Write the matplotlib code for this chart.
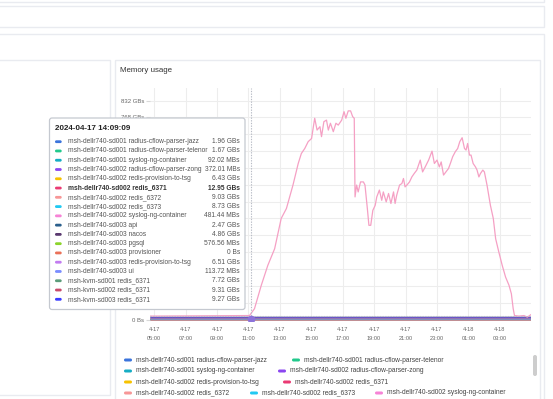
import pandas as pd
import matplotlib
matplotlib.use("Agg")
import matplotlib.pyplot as plt
import matplotlib.dates as mdates
from matplotlib.patches import Rectangle, FancyBboxPatch
from matplotlib.transforms import Affine2D
from matplotlib.ticker import FuncFormatter, MultipleLocator

plt.rcParams['font.family'] = ['Liberation Sans', 'DejaVu Sans']

# Series shown in the tooltip / legend
series_names = [
    'msh-dellr740-sd001 radius-cflow-parser-jazz',
    'msh-dellr740-sd001 radius-cflow-parser-telenor',
    'msh-dellr740-sd001 syslog-ng-container',
    'msh-dellr740-sd002 radius-cflow-parser-zong',
    'msh-dellr740-sd002 redis-provision-to-tsg',
    'msh-dellr740-sd002 redis_6371',
    'msh-dellr740-sd002 redis_6372',
    'msh-dellr740-sd002 redis_6373',
    'msh-dellr740-sd002 syslog-ng-container',
    'msh-dellr740-sd003 api',
    'msh-dellr740-sd003 nacos',
    'msh-dellr740-sd003 pgsql',
    'msh-dellr740-sd003 provisioner',
    'msh-dellr740-sd003 redis-provision-to-tsg',
    'msh-dellr740-sd003 ui',
    'msh-kvm-sd001 redis_6371',
    'msh-kvm-sd002 redis_6371',
    'msh-kvm-sd003 redis_6371',
]
series_colors = [
    '#3b74dc', '#22c98c', '#16adc4', '#8b46f0', '#f7c200', '#ea3a73',
    '#f79797', '#21c9f2', '#f683d6', '#2b5f8c', '#5b3a70', '#8cd42c',
    '#ea7158', '#c27cf0', '#7a8dff', '#5c9c7a', '#c94b6b', '#3a3cff',
]
tooltip_values = [
    '1.96 GBs', '1.67 GBs', '92.02 MBs', '372.01 MBs', '6.43 GBs', '12.95 GBs',
    '9.03 GBs', '8.73 GBs', '481.44 MBs', '2.47 GBs', '4.86 GBs', '576.56 MBs',
    '0 Bs', '6.51 GBs', '113.72 MBs', '7.72 GBs', '9.31 GBs', '9.27 GBs',
]
hovered = 5
tooltip_time = '2024-04-17 14:09:09'

# The large series (redis_6371) over the day
big_times = [
    '04-17 04:44', '04-17 11:04', '04-17 11:23', '04-17 11:49', '04-17 12:14',
    '04-17 12:40', '04-17 13:05', '04-17 13:25', '04-17 13:50', '04-17 14:10',
    '04-17 14:22', '04-17 14:35', '04-17 14:48', '04-17 15:01', '04-17 15:07',
    '04-17 15:13', '04-17 15:22', '04-17 15:33', '04-17 15:39', '04-17 15:48',
    '04-17 15:58', '04-17 16:05', '04-17 16:13', '04-17 16:24', '04-17 16:34',
    '04-17 16:43', '04-17 16:56', '04-17 17:05', '04-17 17:12', '04-17 17:21',
    '04-17 17:30', '04-17 17:38', '04-17 17:44', '04-17 17:47', '04-17 17:53',
    '04-17 17:59', '04-17 18:08', '04-17 18:19', '04-17 18:25', '04-17 18:34',
    '04-17 18:40', '04-17 18:47', '04-17 18:55', '04-17 19:04', '04-17 19:10',
    '04-17 19:20', '04-17 19:29', '04-17 19:35', '04-17 19:46', '04-17 19:55',
    '04-17 20:04', '04-17 20:14', '04-17 20:20', '04-17 20:26', '04-17 20:37',
    '04-17 20:46', '04-17 20:52', '04-17 20:58', '04-17 21:05', '04-17 21:15',
    '04-17 21:24', '04-17 21:33', '04-17 21:43', '04-17 21:56', '04-17 22:05',
    '04-17 22:15', '04-17 22:28', '04-17 22:41', '04-17 22:50', '04-17 23:00',
    '04-17 23:09', '04-17 23:16', '04-17 23:25', '04-17 23:34', '04-17 23:44',
    '04-17 23:51', '04-18 00:00', '04-18 00:10', '04-18 00:19', '04-18 00:27',
    '04-18 00:36', '04-18 00:45', '04-18 00:51', '04-18 00:57', '04-18 01:04',
    '04-18 01:10', '04-18 01:18', '04-18 01:27', '04-18 01:33', '04-18 01:40',
    '04-18 01:46', '04-18 01:55', '04-18 02:01', '04-18 02:11', '04-18 02:24',
    '04-18 02:35', '04-18 02:44', '04-18 02:56', '04-18 03:09', '04-18 03:22',
    '04-18 03:35', '04-18 03:44', '04-18 03:51', '04-18 03:56', '04-18 04:13',
    '04-18 04:32', '04-18 04:45', '04-18 04:58',
]
big_gb = [
    12.9, 15, 41, 130, 206, 269, 384, 422, 511, 593,
    631, 650, 676, 688, 727, 765, 720, 733, 695, 752,
    758, 720, 746, 714, 746, 739, 758, 790, 765, 793,
    793, 771, 765, 466, 511, 485, 523, 523, 511, 422,
    358, 358, 415, 434, 466, 492, 453, 485, 447, 479,
    441, 485, 441, 472, 511, 517, 536, 504, 511, 523,
    542, 555, 568, 606, 561, 580, 606, 640, 593, 606,
    580, 599, 549, 561, 574, 593, 619, 638, 650, 676,
    691, 650, 644, 669, 625, 625, 593, 580, 568, 542,
    555, 568, 561, 511, 434, 384, 307, 257, 206, 161,
    130, 98, 41, 15, 13, 15, 9, 18,
]

range_start = '2024-04-17 04:44'
range_end = '2024-04-18 04:59'
cursor_time = '2024-04-17 11:09'
cursor_gb = 14.5
cursor_point_gb = 2.0
# y labels that are not hidden behind the tooltip
shown_ylabels = [0, 768, 832]

# Legend rows (flow layout as in the panel)
legend_rows = [[0, 1], [2, 3], [4, 5], [6, 7, 8]]
legend_x = [[124, 292], [124, 278], [124, 283], [124, 250, 375]]
legend_y = [360, 371, 382, 393]


def to_gb(s):
    num, unit = s.split()
    v = float(num)
    return v / 1024 if unit == 'MBs' else (0.0 if unit == 'Bs' else v)


W, H = 553, 399
fig = plt.figure(figsize=(W / 100, H / 100), dpi=100)
fig.patch.set_facecolor('white')
px = Affine2D().scale(1, -1).translate(0, H)  # pixel coords, y down

border = '#e9ebf0'


def box(x0, y0, x1, y1, ec=border):
    fig.add_artist(Rectangle((x0, y0), x1 - x0, y1 - y0, transform=px,
                             fill=False, ec=ec, lw=1.0))


# dashboard frames
box(-2, -10, 544, 1.5)
box(-2, 5.5, 544, 27)
box(-2, 33.5, 544, 410)
box(-2, 59.5, 109.5, 394.5)
box(114.5, 59.5, 539.5, 410)
fig.text(120, 71, 'Memory usage', transform=px, fontsize=5.7,
         color='#333333', va='center', ha='left')

ax = fig.add_axes([150 / W, 1 - 321 / H, (531 - 150) / W, (321 - 88) / H])
start = pd.Timestamp(range_start)
end = pd.Timestamp(range_end)

for i, name in enumerate(series_names):
    if i == hovered:
        continue
    v = to_gb(tooltip_values[i])
    ax.plot([start, end], [v, v], color=series_colors[i], lw=1.0, alpha=0.55,
            solid_capstyle='butt')

tt = pd.to_datetime(['2024-' + t for t in big_times])
ax.plot(tt, big_gb, color='#f5a0c4', lw=0.9)

ct = pd.Timestamp(cursor_time)
ax.axvline(ct, color='#b8bcc6', lw=0.8, ls=(0, (1.2, 1.2)))
ax.axhline(cursor_gb, color='#b8bcc6', lw=0.8, ls=(0, (1.2, 1.2)))
ax.plot([ct], [cursor_point_gb], 'o', ms=4.5, color='#8c72d9', mec='#8c72d9')

ax.set_xlim(start, end)
ax.set_ylim(-5.7, 880)
ax.yaxis.set_major_locator(MultipleLocator(64))


def yfmt(v, p):
    if int(round(v)) not in shown_ylabels:
        return ''
    return '0 Bs' if v == 0 else f'{int(round(v))} GBs'


ax.yaxis.set_major_formatter(FuncFormatter(yfmt))
ax.xaxis.set_major_locator(mdates.HourLocator(byhour=range(1, 24, 2)))


def xfmt(v, p):
    d = mdates.num2date(v)
    return f'{d.month}-{d.day}\n{d:%H:%M}'


ax.xaxis.set_major_formatter(FuncFormatter(xfmt))
ax.grid(True, color='#ededed', lw=0.8)
ax.set_axisbelow(True)
for s in ax.spines.values():
    s.set_visible(False)
ax.tick_params(axis='y', length=3, color='#d8d8d8', labelsize=4.3,
               labelcolor='#666666', pad=1)
ax.tick_params(axis='x', length=0, labelsize=4.1, labelcolor='#666666', pad=4)
for lab in ax.get_xticklabels():
    lab.set_linespacing(2.2)

# legend below the plot
for r, row in enumerate(legend_rows):
    for k, idx in enumerate(row):
        x = legend_x[r][k]
        y = legend_y[r]
        fig.add_artist(FancyBboxPatch((x, y - 1.5), 8, 3, transform=px,
                                      boxstyle='round,pad=0,rounding_size=1.5',
                                      fc=series_colors[idx], ec='none'))
        fig.text(x + 12, y, series_names[idx], transform=px, fontsize=4.8,
                 color='#444444', va='center', ha='left')

# legend scrollbar
fig.add_artist(FancyBboxPatch((533, 355), 4, 21, transform=px,
                              boxstyle='round,pad=0,rounding_size=2',
                              fc='#cdcdcd', ec='none'))

# tooltip
fig.add_artist(FancyBboxPatch((49.5, 118), 195.5, 191.5, transform=px,
                              boxstyle='round,pad=0,rounding_size=2.5',
                              fc='white', ec='#c5c9d0', lw=0.9, zorder=5))
fig.text(55, 129, tooltip_time, transform=px, fontsize=5.8, weight='bold',
         color='#222222', va='center', ha='left', zorder=6)
for i, name in enumerate(series_names):
    y = 141.7 + i * 9.27
    bold = 'bold' if i == hovered else 'normal'
    col = '#333333' if i == hovered else '#555555'
    fig.add_artist(FancyBboxPatch((55, y - 1.4), 6.7, 2.8, transform=px,
                                  boxstyle='round,pad=0,rounding_size=1.4',
                                  fc=series_colors[i], ec='none', zorder=6))
    fig.text(68.3, y, name, transform=px, fontsize=4.8, weight=bold,
             color=col, va='center', ha='left', zorder=6)
    fig.text(240, y, tooltip_values[i], transform=px, fontsize=4.8,
             weight=bold, color=col, va='center', ha='right', zorder=6)

fig.savefig('out.png', dpi=100)
